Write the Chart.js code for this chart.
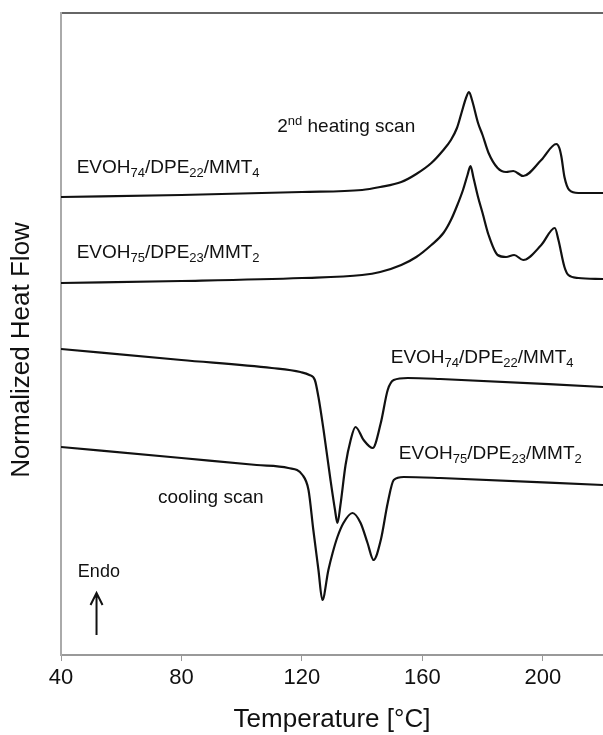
<!DOCTYPE html>
<html>
<head>
<meta charset="utf-8">
<script src="https://cdn.jsdelivr.net/npm/chart.js@4.4.1/dist/chart.umd.min.js"></script>
<style>
  html, body { margin: 0; padding: 0; background: #fff; }
  #wrap { width: 603px; height: 735px; }
</style>
</head>
<body>
<div id="wrap"><canvas id="dsc"></canvas></div>
<script>
// DSC traces: temperature (°C) vs normalized heat flow (a.u., curves offset)
const heat74T = [40, 80, 120, 140, 146, 153, 158, 163, 167, 169.5, 171.5, 173, 174.5, 175.5, 176.5, 178.5, 180, 182, 185, 187.8, 190.2, 193.5, 199.5, 204.5, 205.5, 206.2, 207.2, 208.8, 211.8, 220];
const heat74Q = [4.58, 4.60, 4.63, 4.65, 4.68, 4.73, 4.81, 4.92, 5.05, 5.15, 5.27, 5.42, 5.57, 5.63, 5.55, 5.32, 5.20, 5.02, 4.87, 4.83, 4.84, 4.79, 4.95, 5.11, 5.07, 4.98, 4.78, 4.65, 4.62, 4.62];

const heat75T = [40, 80, 120, 140, 146, 153, 158, 163, 167, 169.5, 171.5, 173.5, 175, 176, 177, 178.5, 180, 182, 185, 187.8, 190.5, 193.5, 199.5, 204, 205.2, 207.2, 208.5, 211.8, 220];
const heat75Q = [3.72, 3.74, 3.77, 3.80, 3.83, 3.90, 3.98, 4.10, 4.22, 4.35, 4.49, 4.65, 4.80, 4.89, 4.77, 4.58, 4.42, 4.20, 4.00, 3.98, 4.00, 3.95, 4.10, 4.27, 4.15, 3.88, 3.80, 3.77, 3.76];

const cool74T = [40, 80, 110, 119.5, 122.5, 124.3, 125.5, 127.2, 129.5, 131, 131.8, 132.8, 134.5, 136.2, 137.8, 140.5, 143.5, 146.2, 148.5, 150.5, 155.2, 166, 220];
const cool74Q = [3.06, 2.95, 2.87, 2.83, 2.80, 2.75, 2.58, 2.25, 1.75, 1.45, 1.32, 1.50, 1.90, 2.15, 2.28, 2.15, 2.07, 2.32, 2.65, 2.75, 2.77, 2.76, 2.68];

const cool75T = [40, 80, 105, 115.5, 120.2, 122.2, 123.8, 125.5, 126.8, 128.8, 130.2, 131.8, 133.8, 136.8, 139.5, 141.8, 143.8, 146.2, 148.5, 150.5, 153.8, 166, 220];
const cool75Q = [2.08, 1.97, 1.90, 1.87, 1.80, 1.65, 1.25, 0.85, 0.55, 0.85, 1.02, 1.18, 1.32, 1.42, 1.32, 1.12, 0.95, 1.15, 1.52, 1.75, 1.78, 1.77, 1.70];

const xTicks = [40, 80, 120, 160, 200];

const FONT = '"Liberation Sans", Arial, sans-serif';
const INK = '#111';
const Y_TITLE = 'Normalized Heat Flow';

// text notes, anchored in data coordinates (left edge, baseline)
const notes = [
  { t: 111.8, q: 5.23, parts: [['2', 0], ['nd', 1], [' heating scan', 0]] },
  { t: 45.2, q: 4.82, parts: [['EVOH', 0], ['74', -1], ['/DPE', 0], ['22', -1], ['/MMT', 0], ['4', -1]] },
  { t: 45.2, q: 3.97, parts: [['EVOH', 0], ['75', -1], ['/DPE', 0], ['23', -1], ['/MMT', 0], ['2', -1]] },
  { t: 149.5, q: 2.92, parts: [['EVOH', 0], ['74', -1], ['/DPE', 0], ['22', -1], ['/MMT', 0], ['4', -1]] },
  { t: 152.2, q: 1.96, parts: [['EVOH', 0], ['75', -1], ['/DPE', 0], ['23', -1], ['/MMT', 0], ['2', -1]] },
  { t: 72.2, q: 1.52, parts: [['cooling scan', 0]] },
  { t: 45.6, q: 0.78, parts: [['Endo', 0]], size: 18 }
];
// endothermic direction arrow: temperature, tail and tip heat-flow values
const endoArrow = { t: 51.8, from: 0.20, to: 0.62 };

function series(ts, qs) {
  return ts.map((t, i) => ({ x: t, y: qs[i] }));
}

function curve(label, ts, qs) {
  return {
    label,
    data: series(ts, qs),
    borderColor: INK,
    borderWidth: 2.2,
    pointRadius: 0,
    cubicInterpolationMode: 'monotone',
    fill: false
  };
}

const notesPlugin = {
  id: 'notes',
  afterDatasetsDraw(chart) {
    const { ctx, scales: { x, y } } = chart;
    ctx.save();
    ctx.fillStyle = INK;
    ctx.textBaseline = 'alphabetic';
    ctx.textAlign = 'left';
    notes.forEach(n => {
      const size = n.size || 19;
      let px = x.getPixelForValue(n.t);
      const py = y.getPixelForValue(n.q);
      n.parts.forEach(([txt, shift]) => {
        if (shift === 0) {
          ctx.font = size + 'px ' + FONT;
          ctx.fillText(txt, px, py);
        } else {
          ctx.font = Math.round(size * 0.68) + 'px ' + FONT;
          ctx.fillText(txt, px, shift < 0 ? py + 4 : py - 7);
        }
        px += ctx.measureText(txt).width;
      });
    });

    const ax = x.getPixelForValue(endoArrow.t);
    const y0 = y.getPixelForValue(endoArrow.from);
    const y1 = y.getPixelForValue(endoArrow.to);
    ctx.strokeStyle = INK;
    ctx.lineWidth = 2;
    ctx.beginPath();
    ctx.moveTo(ax, y0);
    ctx.lineTo(ax, y1);
    ctx.moveTo(ax - 6, y1 + 12);
    ctx.lineTo(ax, y1);
    ctx.lineTo(ax + 6, y1 + 12);
    ctx.stroke();

    // vertical axis title, set a little below the middle of the plot
    ctx.translate(22, (y.top + y.bottom) / 2 + 16);
    ctx.rotate(-Math.PI / 2);
    ctx.font = '26px ' + FONT;
    ctx.textAlign = 'center';
    ctx.textBaseline = 'middle';
    ctx.fillText(Y_TITLE, 0, 0);
    ctx.restore();
  }
};

new Chart(document.getElementById('dsc'), {
  type: 'line',
  data: {
    datasets: [
      curve('EVOH74/DPE22/MMT4 heating', heat74T, heat74Q),
      curve('EVOH75/DPE23/MMT2 heating', heat75T, heat75Q),
      curve('EVOH74/DPE22/MMT4 cooling', cool74T, cool74Q),
      curve('EVOH75/DPE23/MMT2 cooling', cool75T, cool75Q)
    ]
  },
  options: {
    responsive: true,
    maintainAspectRatio: false,
    animation: false,
    layout: { padding: 0 },
    plugins: {
      legend: { display: false },
      tooltip: { enabled: false }
    },
    scales: {
      x: {
        type: 'linear',
        position: 'bottom',
        min: 40,
        max: 220,
        afterBuildTicks: s => { s.ticks = xTicks.map(v => ({ value: v })); },
        afterFit: s => { s.height = 80; },
        grid: { drawOnChartArea: false, drawTicks: true, tickLength: 6, color: '#999' },
        border: { color: '#999', width: 2 },
        ticks: { font: { family: FONT, size: 22 }, color: INK, padding: 4, maxRotation: 0, autoSkip: false },
        title: { display: true, text: 'Temperature [°C]', font: { family: FONT, size: 26 }, color: INK, padding: 0 }
      },
      xTop: {
        type: 'linear',
        position: 'top',
        afterFit: s => { s.height = 13; },
        grid: { display: false },
        ticks: { display: false },
        border: { color: '#666', width: 2 }
      },
      y: {
        min: 0,
        max: 6.42,
        afterFit: s => { s.width = 61; },
        grid: { display: false },
        ticks: { display: false },
        border: { color: '#aaa', width: 2 }
      }
    }
  },
  plugins: [notesPlugin]
});
</script>
</body>
</html>
